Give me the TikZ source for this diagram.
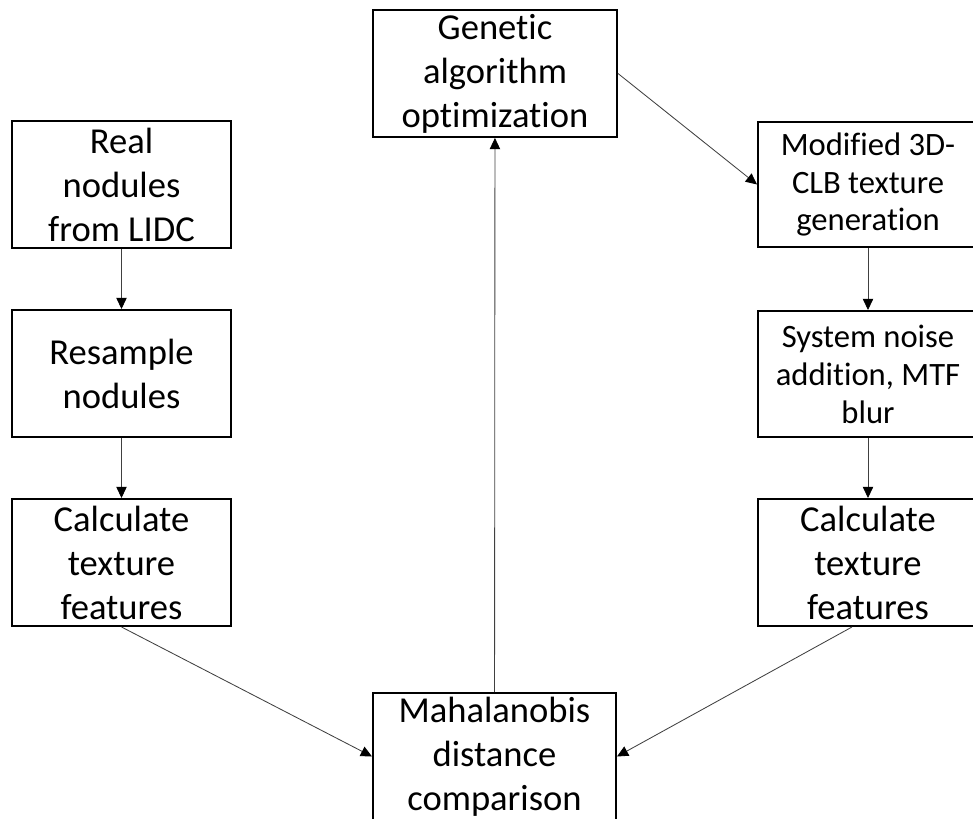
\documentclass[tikz,border=0pt]{standalone}
\usepackage{fontspec}
\setmainfont{Carlito}[Ligatures={NoCommon,NoRequired,NoContextual}]
\usetikzlibrary{arrows.meta}

\begin{document}
\begin{tikzpicture}
	\tikzset{big/.style = {shape=rectangle,draw,line width=1.4pt,align=center,
			inner sep=0pt,font=\fontsize{26}{31.3}\selectfont}}
	\tikzset{small/.style = {big,font=\fontsize{23.2}{27}\selectfont}}
	\tikzset{edge/.style = {-{Triangle[length=2.8mm,width=2.6mm,color=black]},line width=0.6pt,draw=black!75}}
	\clip (0,0) rectangle (24.325,-20.475);
	% left column
	\node[big,minimum width=5.475cm,minimum height=3.175cm] (real) at (3.0375,-4.6125) {Real\\nodules\\from LIDC};
	\node[big,minimum width=5.475cm,minimum height=3.175cm] (resample) at (3.0375,-9.3375) {Resample\\nodules};
	\node[big,minimum width=5.475cm,minimum height=3.175cm] (calcL) at (3.0375,-14.0625) {Calculate\\texture\\features};
	% middle
	\node[big,minimum width=6.1cm,minimum height=3.175cm] (gen) at (12.375,-1.8375) {Genetic\\algorithm\\optimization};
	\node[big,minimum width=6.075cm,minimum height=3.175cm] (maha) at (12.3625,-18.9125) {Mahalanobis\\distance\\comparison};
	% right column
	\node[small,minimum width=5.5cm,minimum height=3.125cm] (mod) at (21.7,-4.6125) {Modified 3D-\\CLB texture\\generation};
	\node[small,minimum width=5.5cm,minimum height=3.15cm] (sys) at (21.7,-9.35) {System noise\\addition, MTF\\blur};
	\node[big,minimum width=5.5cm,minimum height=3.175cm] (calcR) at (21.7,-14.0625) {Calculate\\texture\\features};
	% edges
	\draw[edge] (real) -- (resample);
	\draw[edge] (resample) -- (calcL);
	\draw[edge] (calcL.south) -- (maha.west);
	\draw[edge] (maha) -- (gen);
	\draw[edge] (gen.east) -- (mod.west);
	\draw[edge] (mod) -- (sys);
	\draw[edge] (sys) -- (calcR);
	\draw[edge] ([xshift=-4mm]calcR.south) -- (maha.east);
\end{tikzpicture}
\end{document}
